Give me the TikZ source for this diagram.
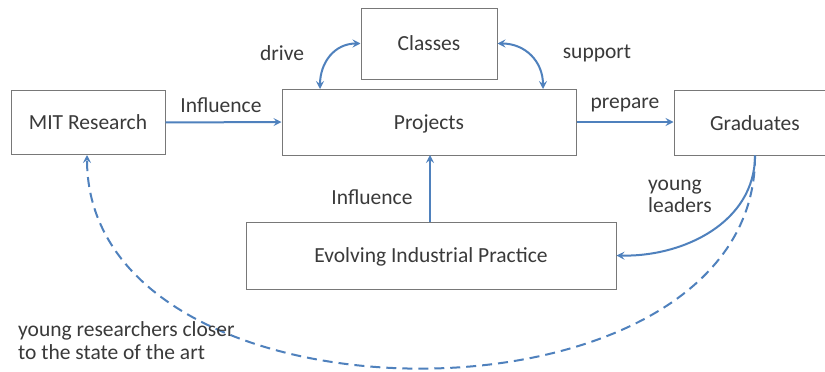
\documentclass[tikz,border=0pt]{standalone}
\usepackage{fontspec}
\setmainfont{Carlito}
\usetikzlibrary{arrows.meta}
\definecolor{flow}{RGB}{79,129,189}
\definecolor{ink}{RGB}{58,58,58}
\definecolor{frame}{RGB}{120,120,120}
\begin{document}
\begin{tikzpicture}[x=1pt,y=-1pt,
  every node/.style={font=\fontsize{21.5}{25}\selectfont, text=ink},
  box/.style={draw=frame, line width=1pt, fill=white, inner sep=0pt, text depth=0pt},
  lbl/.style={inner sep=0pt},
  tip/.style={Stealth[length=8pt,width=8pt,inset=3pt]},
  link/.style={draw=flow, line width=2pt, -{Stealth[length=8pt,width=8pt,inset=3pt]}},
  twoway/.style={link, {Stealth[length=8pt,width=8pt,inset=3pt]}-{Stealth[length=8pt,width=8pt,inset=3pt]}},
  back/.style={link, dash pattern=on 10pt off 6pt}
]
\useasboundingbox (0,0) rectangle (825,372);
\clip (0,0) rectangle (825,372);
\fill[white] (0,0) rectangle (825,372);

% boxes
\node[box, minimum width=136pt, minimum height=71pt] (classes) at (429,43.5) {Classes};
\node[box, minimum width=294pt, minimum height=66pt] (projects) at (429,122) {Projects};
\node[box, minimum width=154pt, minimum height=64pt] (mit) at (88,122.5) {MIT Research};
\node[box, minimum width=162pt, minimum height=65pt] (grad) at (755,123) {Graduates};
\node[box, minimum width=370pt, minimum height=67pt] (ind) at (431,255.5) {Evolving Industrial Practice};

% anchor points for the curved connectors
\coordinate (pl) at (320,89);
\coordinate (pr) at (543,89);
\coordinate (gb) at (755,155.5);
\coordinate (mb) at (87,155);

% straight connectors
\draw[link] (mit.east) -- (projects.west);
\draw[link] (projects.east) -- (grad.west |- projects.east);
\draw[link] (ind.north -| 430,0) -- (430,155);

% classes <-> projects
\draw[twoway] (classes.west) to[out=180,in=90,looseness=1.1] (pl);
\draw[twoway] (classes.east) to[out=0,in=90,looseness=1.1] (pr);

% graduates feed back
\draw[link] (gb) .. controls (755,222) and (684,257) .. (ind.east);
\draw[back] (gb) .. controls (757,439) and (87,439) .. (mb);

% labels
\node[lbl] (l1) at (221,105) {Influence};
\node[lbl] (l2) at (625,105) {prepare};
\node[lbl] (l3) at (372,197) {Influence};
\node[lbl] (l4) at (282,53) {drive};
\node[lbl] (l5) at (597,53) {support};
\node[lbl, align=left, anchor=north west] (l6) at (648,180) {young\\[-3pt]leaders};
\node[lbl, align=left, anchor=north west] (l7) at (18,321) {young researchers closer\\[-2pt]to the state of the art};
\end{tikzpicture}
\end{document}
